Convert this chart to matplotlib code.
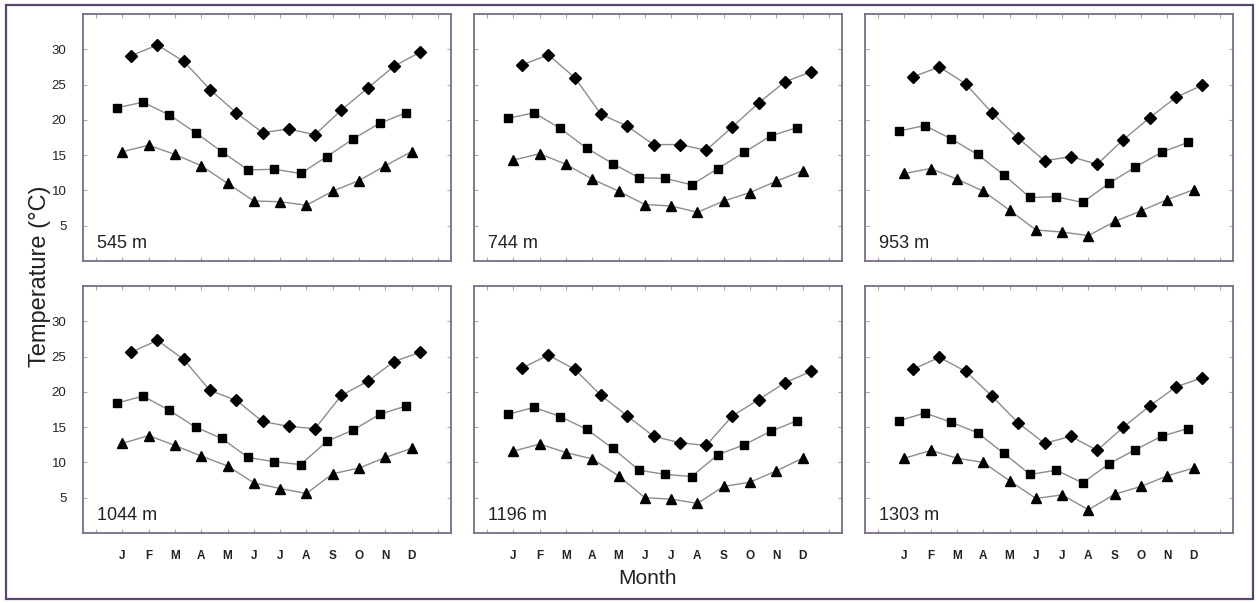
import matplotlib
matplotlib.use('Agg')
import matplotlib.pyplot as plt
from matplotlib.patches import Rectangle
import numpy as np

plt.rcParams['font.family'] = ['Liberation Sans', 'DejaVu Sans']

months = ['J', 'F', 'M', 'A', 'M', 'J', 'J', 'A', 'S', 'O', 'N', 'D']
sites = ['545 m', '744 m', '953 m', '1044 m', '1196 m', '1303 m']

# monthly maximum (diamonds), mean (squares) and minimum (triangles), deg C
max_545 = [29.1, 30.6, 28.3, 24.3, 21.0, 18.2, 18.7, 17.9, 21.4, 24.5, 27.6, 29.6]
mean_545 = [21.7, 22.5, 20.7, 18.2, 15.5, 12.9, 13.0, 12.4, 14.8, 17.3, 19.5, 21.0]
min_545 = [15.5, 16.4, 15.1, 13.5, 11.0, 8.5, 8.4, 7.9, 9.9, 11.4, 13.5, 15.5]

max_744 = [27.8, 29.2, 26.0, 20.8, 19.1, 16.5, 16.5, 15.7, 19.0, 22.4, 25.4, 26.8]
mean_744 = [20.2, 21.0, 18.8, 16.0, 13.8, 11.8, 11.7, 10.8, 13.1, 15.4, 17.7, 18.9]
min_744 = [14.3, 15.2, 13.7, 11.6, 9.9, 8.0, 7.8, 6.9, 8.5, 9.7, 11.3, 12.8]

max_953 = [26.1, 27.5, 25.1, 21.0, 17.4, 14.2, 14.8, 13.7, 17.2, 20.3, 23.2, 24.9]
mean_953 = [18.4, 19.2, 17.3, 15.1, 12.2, 9.0, 9.1, 8.3, 11.0, 13.3, 15.4, 16.8]
min_953 = [12.4, 13.1, 11.6, 9.9, 7.2, 4.4, 4.1, 3.6, 5.6, 7.1, 8.7, 10.1]

max_1044 = [25.6, 27.3, 24.6, 20.2, 18.8, 15.8, 15.1, 14.8, 19.5, 21.5, 24.3, 25.6]
mean_1044 = [18.4, 19.4, 17.4, 15.0, 13.4, 10.7, 10.1, 9.7, 13.0, 14.6, 16.8, 18.0]
min_1044 = [12.7, 13.8, 12.4, 10.9, 9.5, 7.1, 6.3, 5.6, 8.4, 9.2, 10.7, 12.0]

max_1196 = [23.4, 25.2, 23.2, 19.5, 16.6, 13.7, 12.8, 12.4, 16.6, 18.9, 21.3, 22.9]
mean_1196 = [16.8, 17.8, 16.5, 14.7, 12.0, 8.9, 8.3, 8.0, 11.1, 12.5, 14.4, 15.9]
min_1196 = [11.6, 12.6, 11.4, 10.5, 8.1, 5.0, 4.8, 4.2, 6.6, 7.2, 8.8, 10.6]

max_1303 = [23.2, 24.9, 22.9, 19.4, 15.6, 12.7, 13.7, 11.7, 15.0, 18.0, 20.7, 22.0]
mean_1303 = [15.9, 17.0, 15.7, 14.2, 11.3, 8.3, 8.9, 7.1, 9.8, 11.8, 13.7, 14.8]
min_1303 = [10.6, 11.7, 10.6, 10.0, 7.4, 4.9, 5.4, 3.3, 5.5, 6.6, 8.1, 9.2]

series = [
    (max_545, mean_545, min_545),
    (max_744, mean_744, min_744),
    (max_953, mean_953, min_953),
    (max_1044, mean_1044, min_1044),
    (max_1196, mean_1196, min_1196),
    (max_1303, mean_1303, min_1303),
]

frame_col = '#7b6c88'
line_col = '#8c8c8c'
text_col = '#222222'

W, H = 1259, 603
fig = plt.figure(figsize=(W / 100, H / 100), dpi=100)

# panel layout in pixels: left edges and top edges
lefts = [83, 474, 865]
tops = [14, 286]
pw, ph = 368, 247

x = np.arange(1, 13)
for i, (site, (tmax, tmean, tmin)) in enumerate(zip(sites, series)):
    r, c = divmod(i, 3)
    ax = fig.add_axes([lefts[c] / W, 1 - (tops[r] + ph) / H, pw / W, ph / H])

    ax.plot(x + 0.33, tmax, color=line_col, lw=1, marker='D', ms=6.3,
            mfc='black', mec='black', zorder=3)
    ax.plot(x - 0.22, tmean, color=line_col, lw=1, marker='s', ms=6.3,
            mfc='black', mec='black', zorder=3)
    ax.plot(x, tmin, color=line_col, lw=1, marker='^', ms=7,
            mfc='black', mec='black', zorder=3)

    ax.set_xlim(-0.5, 13.5)
    ax.set_ylim(0, 35)
    ax.set_xticks(x)
    ax.set_xticks([0, 13], minor=True)
    ax.set_yticks([5, 10, 15, 20, 25, 30])
    ax.tick_params(which='both', direction='in', length=3, width=0.8,
                   color='#aaaaaa', top=True, right=True)
    ax.tick_params(axis='y', pad=12, labelsize=9.5, labelcolor=text_col)
    ax.tick_params(axis='x', pad=12, labelsize=8.5, labelcolor=text_col)

    if r == 1:
        ax.set_xticklabels(months, fontweight='bold')
    else:
        ax.set_xticklabels([])
    if c != 0:
        ax.set_yticklabels([])

    for sp in ax.spines.values():
        sp.set_color(frame_col)
        sp.set_linewidth(1.3)

    ax.text(0.038, 0.035, site, transform=ax.transAxes, ha='left',
            va='bottom', fontsize=13, color=text_col)

fig.text(40 / W, 1 - 276 / H, 'Temperature (°C)', rotation=90, ha='center',
         va='center', fontsize=17, color=text_col)
fig.text(648 / W, 1 - 578 / H, 'Month', ha='center', va='center',
         fontsize=15, color=text_col)

# outer border round the whole figure
fig.patches.append(Rectangle((6 / W, 4 / H), 1 - 12 / W, 1 - 9 / H,
                             transform=fig.transFigure, fill=False,
                             edgecolor='#574768', lw=1.6))

fig.savefig('out.png', dpi=100, facecolor='white')
